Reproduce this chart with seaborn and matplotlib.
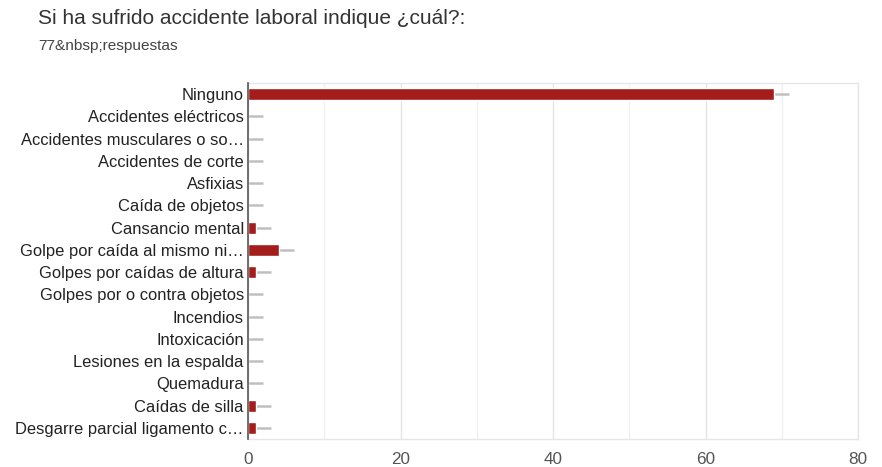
import matplotlib
matplotlib.use("Agg")
import matplotlib.pyplot as plt
import seaborn as sns
import pandas as pd
from matplotlib.ticker import MultipleLocator

categories = [
    "Ninguno",
    "Accidentes eléctricos",
    "Accidentes musculares o so…",
    "Accidentes de corte",
    "Asfixias",
    "Caída de objetos",
    "Cansancio mental",
    "Golpe por caída al mismo ni…",
    "Golpes por caídas de altura",
    "Golpes por o contra objetos",
    "Incendios",
    "Intoxicación",
    "Lesiones en la espalda",
    "Quemadura",
    "Caídas de silla",
    "Desgarre parcial ligamento c…",
]
counts = [69, 0, 0, 0, 0, 0, 1, 4, 1, 0, 0, 0, 0, 0, 1, 1]
x_ticks = [0, 20, 40, 60, 80]

title = "Si ha sufrido accidente laboral indique ¿cuál?:"
subtitle = "77&nbsp;respuestas"

df = pd.DataFrame({"categoria": categories, "respuestas": counts})

sns.set_theme(style="white")
plt.rcParams["font.family"] = ["Liberation Sans", "DejaVu Sans"]

fig = plt.figure(figsize=(8.82, 4.67), dpi=100)
ax = fig.add_axes([248 / 882, 1 - 439 / 467, 610 / 882, 356 / 467])

bar_color = "#a51c1c"
sns.barplot(data=df, y="categoria", x="respuestas", orient="h",
            color=bar_color, width=0.55, ax=ax, zorder=3, saturation=1)

# short grey whisker after each bar
for i, v in enumerate(counts):
    ax.hlines(i, v, v + 2, color="#c0c0c0", lw=1.8, zorder=2)

ax.set_xlim(0, 80)
ax.set_ylim(len(categories) - 0.5, -0.5)
ax.xaxis.set_major_locator(MultipleLocator(20))
ax.xaxis.set_minor_locator(MultipleLocator(10))
ax.set_xticks(x_ticks)
ax.grid(axis="x", which="major", color="#e4e4e4", lw=1, zorder=0)
ax.grid(axis="x", which="minor", color="#f0f0f0", lw=1, zorder=0)
ax.set_axisbelow(True)

for side in ["top", "right", "bottom"]:
    ax.spines[side].set_color("#e6e6e6")
    ax.spines[side].set_linewidth(1)
ax.spines["left"].set_color("#555555")
ax.spines["left"].set_linewidth(1.2)
ax.spines["left"].set_zorder(5)

ax.set_xlabel("")
ax.set_ylabel("")
ax.tick_params(axis="y", length=0, pad=3, labelsize=11.9, labelcolor="#222222")
ax.tick_params(axis="x", length=0, pad=9, labelsize=12.3, labelcolor="#555555")

fig.text(38 / 882, 1 - 19 / 467, title, fontsize=15, color="#333333",
         va="center", ha="left")
fig.text(38 / 882, 1 - 46 / 467, subtitle, fontsize=11.1, color="#444444",
         va="center", ha="left")

fig.savefig("out.png", dpi=100, facecolor="white")
